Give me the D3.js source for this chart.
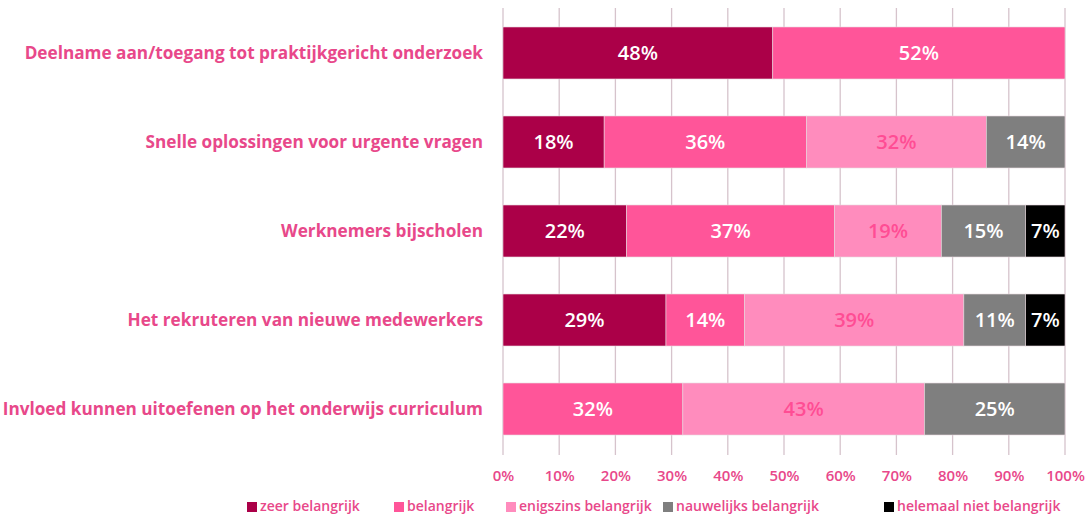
<!DOCTYPE html>
<html>
<head>
<meta charset="utf-8">
<script src="https://cdn.jsdelivr.net/npm/d3@7"></script>
<style>
  html, body { margin: 0; padding: 0; background: #ffffff; }
  svg { display: block; font-family: "Open Sans", "Lato", sans-serif; }
</style>
</head>
<body>
<svg id="chart" width="1088" height="515"></svg>
<script>
// Survey items (top to bottom)
const categories = [
  "Deelname aan/toegang tot praktijkgericht onderzoek",
  "Snelle oplossingen voor urgente vragen",
  "Werknemers bijscholen",
  "Het rekruteren van nieuwe medewerkers",
  "Invloed kunnen uitoefenen op het onderwijs curriculum"
];

// Answer levels
const seriesNames = [
  "zeer belangrijk",
  "belangrijk",
  "enigszins belangrijk",
  "nauwelijks belangrijk",
  "helemaal niet belangrijk"
];

// Percentages per answer level, one value per survey item
const zeerBelangrijk       = [48, 18, 22, 29, 0];
const belangrijk           = [52, 36, 37, 14, 32];
const enigszinsBelangrijk  = [0, 32, 19, 39, 43];
const nauwelijksBelangrijk = [0, 14, 15, 11, 25];
const helemaalNiet         = [0, 0, 7, 7, 0];

const tickValues = [0, 10, 20, 30, 40, 50, 60, 70, 80, 90, 100];

const seriesValues = [zeerBelangrijk, belangrijk, enigszinsBelangrijk, nauwelijksBelangrijk, helemaalNiet];
const fills = ["#ab0048", "#ff5599", "#ff8cbd", "#7f7f7f", "#000000"];
const labelColors = ["#ffffff", "#ffffff", "#ff4d94", "#ffffff", "#ffffff"];
const pink = "#e8488a";

const rows = categories.map((c, i) => {
  const r = { category: c };
  seriesNames.forEach((s, j) => { r[s] = seriesValues[j][i]; });
  return r;
});

const stacked = d3.stack().keys(seriesNames)(rows);

const svg = d3.select("#chart");
const width = 1088;

const x = d3.scaleLinear().domain([0, 100]).range([503, width - 23]);
const y = d3.scaleBand().domain(categories)
  .range([27, 435])
  .paddingInner(0.416).paddingOuter(0);

// Vertical grid lines
svg.append("g")
  .selectAll("line")
  .data(tickValues)
  .join("line")
  .attr("x1", d => x(d)).attr("x2", d => x(d))
  .attr("y1", 8).attr("y2", 455)
  .attr("stroke", "#d6c3cc")
  .attr("stroke-width", 1.3);

// Bars
const layers = svg.append("g")
  .selectAll("g")
  .data(stacked)
  .join("g")
  .attr("fill", (d, i) => fills[i]);

layers.selectAll("rect")
  .data(d => d.filter(v => v[1] - v[0] > 0))
  .join("rect")
  .attr("x", v => x(v[0]))
  .attr("y", v => y(v.data.category))
  .attr("width", v => x(v[1]) - x(v[0]))
  .attr("height", y.bandwidth())
  .attr("stroke", "#e6d7dd")
  .attr("stroke-width", 0.6);

// Value labels inside bars
layers.each(function (layer, i) {
  d3.select(this).selectAll("text")
    .data(layer.filter(v => v[1] - v[0] > 0))
    .join("text")
    .attr("x", v => (x(v[0]) + x(v[1])) / 2)
    .attr("y", v => y(v.data.category) + y.bandwidth() / 2)
    .attr("dy", "0.36em")
    .attr("text-anchor", "middle")
    .attr("fill", labelColors[i])
    .attr("font-size", 20)
    .attr("font-weight", 600)
    .text(v => `${v[1] - v[0]}%`);
});

// Category labels
svg.append("g")
  .selectAll("text")
  .data(categories)
  .join("text")
  .attr("x", 483)
  .attr("y", d => y(d) + y.bandwidth() / 2)
  .attr("dy", "0.36em")
  .attr("text-anchor", "end")
  .attr("fill", pink)
  .attr("font-size", 17.2)
  .attr("font-weight", 700)
  .text(d => d);

// X axis
const xAxis = d3.axisBottom(x)
  .tickValues(tickValues)
  .tickFormat(d => d + "%")
  .tickSize(0)
  .tickPadding(0);

const axisG = svg.append("g")
  .attr("transform", "translate(0, 470)")
  .call(xAxis);
axisG.select(".domain").remove();
axisG.selectAll("text")
  .attr("fill", pink)
  .attr("font-size", 15)
  .attr("font-weight", 600)
  .attr("font-family", "'Open Sans', sans-serif");

// Legend
const legendX = [247, 394, 506, 663, 884];
const legend = svg.append("g")
  .selectAll("g")
  .data(seriesNames)
  .join("g")
  .attr("transform", (d, i) => `translate(${legendX[i]}, 506)`);

legend.append("rect")
  .attr("x", 0).attr("y", -4)
  .attr("width", 10).attr("height", 10)
  .attr("fill", (d, i) => fills[i]);

legend.append("text")
  .attr("x", 13)
  .attr("dy", "0.36em")
  .attr("fill", pink)
  .attr("font-size", 14)
  .attr("font-weight", 600)
  .text(d => d);
</script>
</body>
</html>
